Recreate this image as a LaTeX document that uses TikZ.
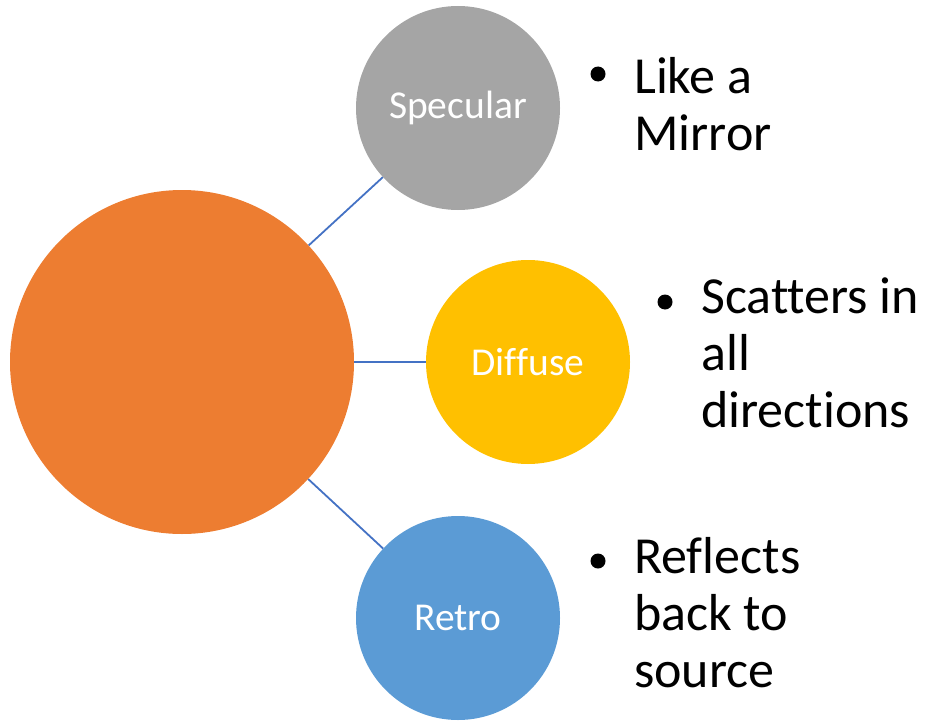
\documentclass[tikz,border=0pt]{standalone}
\usepackage{fontspec}
\setmainfont[Ligatures=NoCommon]{Carlito}
\definecolor{orng}{HTML}{ED7D31}
\definecolor{gry}{HTML}{A5A5A5}
\definecolor{ylw}{HTML}{FFC000}
\definecolor{blu}{HTML}{5B9BD5}
\definecolor{lnk}{HTML}{4472C4}
\begin{document}
\begin{tikzpicture}[x=1pt,y=1pt,
  bigc/.style={circle,fill=orng,minimum size=344pt,inner sep=0pt},
  smallc/.style={circle,minimum size=204pt,inner sep=0pt,text=white,font=\fontsize{39.5}{46}\selectfont},
  link/.style={draw=lnk,line width=1.8pt},
  dot/.style={circle,fill=black,minimum size=15pt,inner sep=0pt},
  btext/.style={anchor=base west,align=left,inner sep=0pt,font=\fontsize{52}{57}\selectfont}]
\useasboundingbox (0,0) rectangle (926,-725);
\node[bigc] (main) at (182,-362) {};
\node[smallc,fill=gry] (spec) at (458,-108) {Specular};
\node[smallc,fill=ylw] (diff) at (528,-362) {Diffuse};
\node[smallc,fill=blu] (retro) at (458,-618) {Retro};
\draw[link] (main) -- (spec);
\draw[link] (main) -- (diff);
\draw[link] (main) -- (retro);
\node[dot] (b1) at (598,-74) {};
\node[btext] (t1) at (634,-150) {Like a\\Mirror};
\node[dot] (b2) at (665,-302) {};
\node[btext] (t2) at (701,-427) {Scatters in\\all\\directions};
\node[dot] (b3) at (598,-561) {};
\node[btext] (t3) at (634,-687) {Reflects\\back to\\source};
\end{tikzpicture}
\end{document}
